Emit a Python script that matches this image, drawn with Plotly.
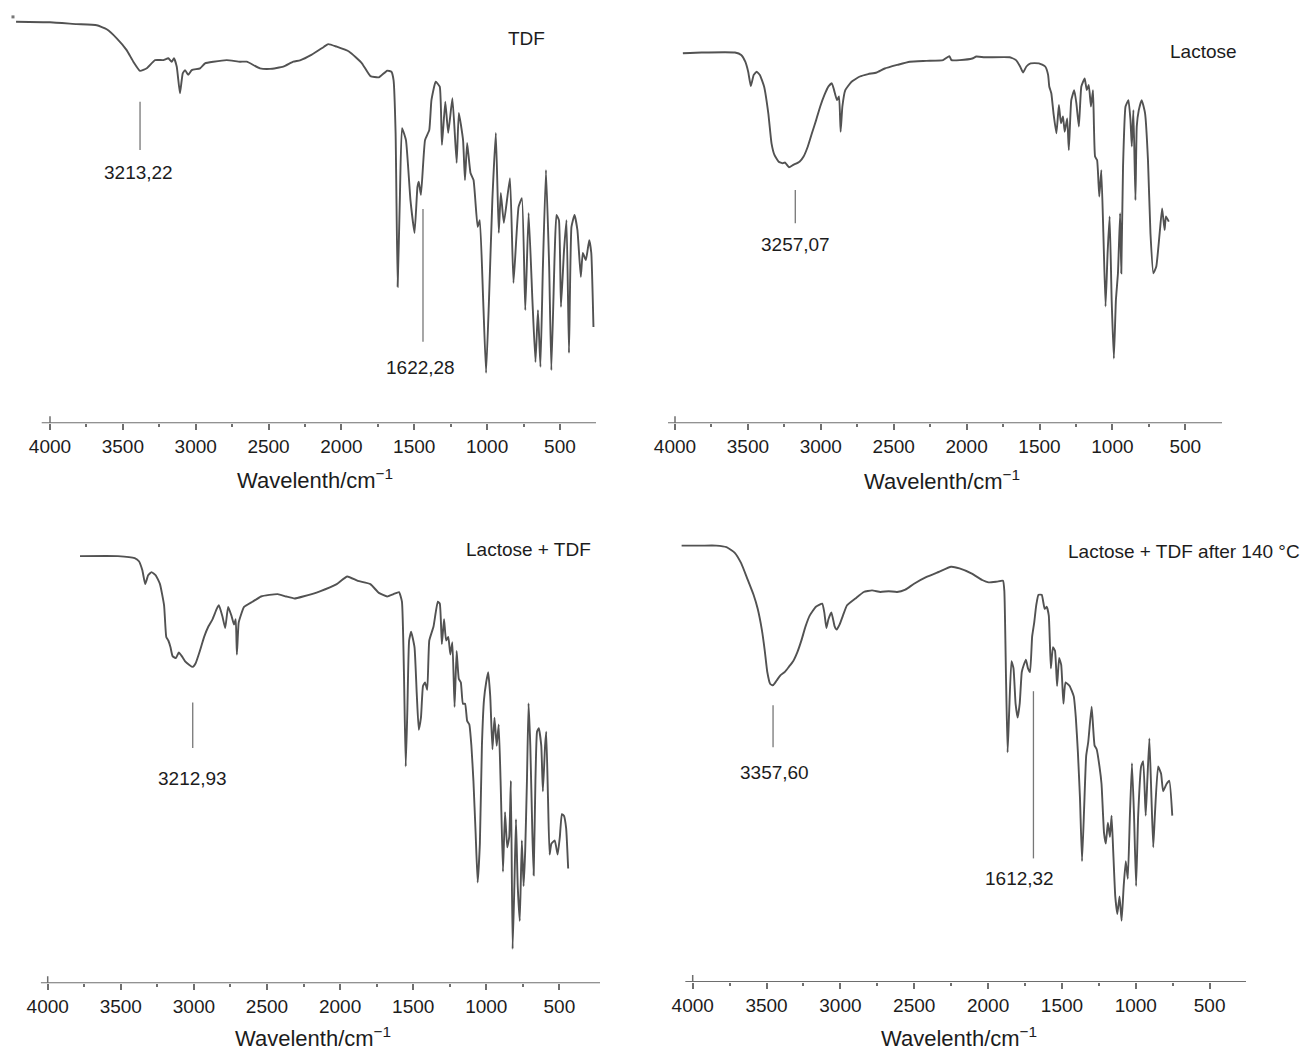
import plotly.graph_objects as go

W, H = 1312, 1050

# ---------------- data (wavenumber cm-1, relative transmittance a.u.) ----------------
tdf_wn = [4233, 4000, 3817, 3679, 3611, 3542, 3474, 3428, 3382, 3336, 3279, 3222, 3188, 3165, 3149, 3130,
          3108, 3089, 3073, 3051, 3027, 2970, 2936, 2879, 2787, 2696, 2650, 2559, 2490, 2399, 2330, 2284,
          2206, 2119, 2090, 2032, 1946, 1859, 1801, 1743, 1686, 1657, 1642, 1628, 1614, 1599, 1584, 1557,
          1526, 1498, 1478, 1469, 1454, 1426, 1397, 1382, 1353, 1325, 1310, 1287, 1267, 1238, 1209, 1194,
          1165, 1152, 1137, 1114, 1093, 1065, 1050, 1027, 1007, 987, 964, 940, 920, 906, 885, 843, 819,
          784, 761, 738, 715, 689, 668, 651, 634, 617, 596, 574, 559, 536, 524, 507, 493, 472, 455, 438,
          421, 400, 380, 357, 343, 322, 299, 285, 270]
tdf_t = [100.4, 100.25, 99.8, 99.5, 98.5, 96.25, 93.3, 90.4, 88.1, 88.75, 90.8, 90.8, 91.25, 90.4, 91.25,
         89.15, 82.5, 87.5, 88.3, 87.1, 88.3, 88.75, 90, 90.4, 90.8, 90.4, 90.4, 88.75, 88.6, 89.15, 90.4,
         90.75, 92.1, 94.15, 94.8, 94.15, 92.9, 90, 86.8, 86.5, 88.15, 87.9, 85.8, 72.6, 34.15, 55.8, 73.8,
         70.8, 55.8, 47.6, 59.1, 60.4, 57.1, 70.8, 73.3, 80.8, 85.4, 84.15, 69.6, 80.4, 72.6, 81.25, 65.1,
         77.6, 70.8, 60.8, 70.1, 62.6, 60.8, 49.1, 50.8, 30.8, 12.6, 30.8, 55.8, 72.6, 47.6, 57.6, 50.1,
         61.3, 35.1, 54.1, 56.3, 28.3, 52.6, 30.8, 15.3, 28.3, 14.1, 39.1, 63.3, 39.1, 13.3, 42.6, 52.1,
         50.8, 29.1, 43.3, 50.8, 17.6, 49.1, 52.1, 48.3, 36.6, 42.6, 40.8, 45.8, 42.6, 24.1]
tdf_dot_wn = [4254]
tdf_dot_t = [101.6]

lac_wn = [3946, 3817, 3589, 3546, 3518, 3498, 3480, 3460, 3440, 3418, 3389, 3360, 3338, 3318, 3289, 3261,
          3246, 3218, 3189, 3146, 3118, 3089, 3061, 3032, 3004, 2975, 2946, 2924, 2909, 2889, 2875, 2864,
          2852, 2832, 2789, 2732, 2675, 2618, 2561, 2475, 2390, 2275, 2161, 2118, 2104, 2047, 1961, 1933,
          1876, 1704, 1661, 1633, 1613, 1590, 1561, 1504, 1461, 1441, 1433, 1419, 1404, 1384, 1367, 1353,
          1339, 1327, 1310, 1299, 1282, 1262, 1247, 1230, 1213, 1190, 1176, 1162, 1147, 1133, 1119, 1105,
          1090, 1076, 1062, 1047, 1033, 1019, 1005, 990, 976, 962, 947, 939, 927, 910, 890, 876, 867, 856,
          842, 833, 819, 799, 776, 756, 739, 719, 699, 676, 659, 642, 633, 613]
lac_t = [92.5, 92.7, 92.7, 92.1, 90.4, 87.9, 84.3, 87.1, 87.9, 87.1, 84.2, 77.5, 70.0, 67.1, 65.4, 65.0,
         65.2, 64.0, 64.6, 65.4, 66.7, 69.2, 72.5, 75.8, 79.2, 82.1, 84.3, 85.0, 83.3, 80.8, 81.7, 72.9,
         79.2, 83.3, 85.4, 86.7, 87.3, 87.7, 88.7, 89.6, 90.4, 90.6, 90.8, 91.8, 90.8, 90.8, 91.2, 91.7,
         91.5, 91.5, 90.8, 89.2, 87.7, 89.2, 90.0, 90.0, 89.2, 87.1, 84.2, 82.5, 77.5, 72.5, 79.6, 75.0,
         76.7, 72.9, 76.2, 68.3, 80.8, 83.3, 80.0, 74.2, 84.2, 86.2, 83.3, 84.6, 79.2, 83.3, 66.7, 65.8,
         56.7, 63.3, 47.5, 29.2, 42.5, 51.7, 30.8, 16.2, 30.8, 37.5, 52.5, 37.5, 64.2, 79.2, 80.8, 75.8,
         69.2, 78.3, 55.8, 74.2, 78.3, 80.8, 77.5, 65.8, 47.5, 37.5, 39.2, 47.5, 53.7, 48.3, 51.7, 50.4]

mix_wn = [3779, 3520, 3405, 3376, 3353, 3333, 3313, 3290, 3261, 3232, 3204, 3189, 3175, 3160, 3146, 3123,
          3103, 3083, 3060, 3031, 3008, 2988, 2959, 2930, 2901, 2873, 2844, 2829, 2806, 2786, 2766, 2743,
          2726, 2714, 2706, 2694, 2680, 2657, 2599, 2541, 2484, 2426, 2369, 2311, 2254, 2138, 2023, 1951,
          1879, 1793, 1735, 1678, 1635, 1597, 1577, 1563, 1551, 1540, 1528, 1514, 1491, 1476, 1462, 1447,
          1433, 1419, 1404, 1390, 1361, 1332, 1318, 1304, 1289, 1275, 1260, 1246, 1232, 1217, 1203, 1188,
          1174, 1160, 1145, 1131, 1116, 1102, 1088, 1073, 1059, 1044, 1030, 1016, 1001, 987, 973, 958, 944,
          929, 915, 901, 886, 872, 857, 843, 832, 820, 808, 797, 785, 771, 757, 745, 734, 722, 711, 699,
          685, 676, 664, 653, 641, 624, 613, 598, 590, 578, 567, 555, 532, 512, 497, 483, 469, 454, 440]
mix_t = [106.8, 106.8, 106.3, 105.5, 103.3, 99.8, 102.0, 102.8, 102.0, 99.8, 94.5, 86.6, 85.7, 84.0, 81.8,
         81.3, 82.7, 81.8, 80.5, 79.6, 79.1, 80.0, 83.1, 86.6, 89.2, 91.0, 93.6, 94.5, 91.9, 88.8, 94.1,
         91.9, 89.7, 91.0, 82.2, 90.1, 91.9, 94.1, 95.4, 96.7, 97.1, 97.3, 96.7, 96.2, 96.7, 98.0, 99.8,
         101.7, 100.6, 99.8, 97.6, 96.7, 97.3, 97.8, 95.4, 77.0, 54.2, 68.2, 85.7, 87.9, 84.0, 72.6, 63.4,
         66.4, 74.3, 75.2, 73.4, 85.7, 89.2, 95.4, 94.9, 84.8, 91.0, 85.7, 86.6, 82.2, 85.3, 69.1, 83.1,
         76.1, 75.2, 69.9, 69.9, 65.6, 64.7, 59.4, 50.6, 37.5, 25.2, 34.9, 59.4, 70.8, 75.2, 77.8, 71.7,
         58.5, 66.4, 59.4, 64.7, 48.9, 27.9, 42.8, 34.0, 36.6, 50.6, 8.6, 24.3, 41.0, 24.3, 15.6, 35.7,
         24.3, 33.1, 50.6, 70.0, 59.4, 37.5, 27.0, 50.6, 62.9, 63.8, 59.4, 48.0, 59.4, 62.9, 46.3, 32.2,
         34.9, 35.7, 32.2, 36.6, 42.3, 41.9, 38.8, 28.7]

heat_wn = [4075, 3940, 3841, 3771, 3715, 3672, 3630, 3588, 3560, 3532, 3512, 3495, 3475, 3456, 3433, 3405,
           3377, 3349, 3320, 3292, 3264, 3236, 3208, 3166, 3123, 3109, 3095, 3081, 3061, 3039, 3025, 3005,
           2983, 2955, 2898, 2842, 2786, 2729, 2673, 2617, 2560, 2504, 2420, 2335, 2251, 2194, 2110, 2040,
           1997, 1941, 1899, 1890, 1879, 1868, 1857, 1842, 1828, 1814, 1800, 1786, 1772, 1758, 1744, 1730,
           1716, 1702, 1688, 1674, 1659, 1637, 1617, 1603, 1589, 1575, 1561, 1547, 1533, 1519, 1505, 1490,
           1476, 1448, 1420, 1406, 1392, 1378, 1364, 1350, 1336, 1322, 1299, 1279, 1265, 1246, 1232, 1215,
           1203, 1189, 1175, 1164, 1153, 1139, 1125, 1110, 1096, 1082, 1068, 1054, 1040, 1026, 1012, 998,
           984, 964, 950, 933, 922, 908, 894, 882, 871, 849, 829, 815, 792, 773, 753]
heat_t = [109.1, 109.1, 109.1, 108.7, 107.3, 104.7, 100.8, 96.8, 93.3, 88.1, 82.8, 77.5, 74.5, 74.2, 75.3,
          76.7, 77.5, 78.8, 80.2, 82.4, 85.4, 88.9, 91.6, 93.8, 94.6, 92.4, 88.5, 90.7, 92.4, 88.9, 88.1,
          89.4, 91.6, 94.2, 95.9, 97.5, 97.9, 97.5, 97.7, 97.5, 98.1, 99.5, 101.2, 102.5, 103.8, 103.4,
          102.1, 100.5, 99.9, 100.1, 100.3, 97.7, 76.7, 57.4, 67.9, 80.2, 78.4, 69.6, 66.1, 69.6, 77.5,
          79.3, 80.6, 78.4, 77.5, 86.3, 89.8, 94.2, 96.8, 96.8, 93.3, 93.8, 91.6, 78.4, 83.7, 82.8, 74.0,
          81.0, 79.3, 69.6, 74.9, 74.0, 71.4, 66.1, 57.4, 46.0, 30.2, 43.3, 56.5, 60.0, 68.8, 59.1, 58.2,
          53.9, 49.5, 37.2, 34.6, 39.8, 36.3, 41.6, 32.8, 21.4, 17.0, 21.4, 15.3, 24.0, 30.2, 25.8, 41.6,
          54.7, 41.6, 24.0, 41.6, 53.9, 55.2, 41.6, 50.3, 60.9, 46.0, 33.7, 41.6, 53.9, 52.1, 47.7, 49.5,
          50.3, 41.6]

sample_names = ["TDF", "Lactose", "Lactose + TDF", "Lactose + TDF after 140 °C"]
tick_vals = [4000, 3500, 3000, 2500, 2000, 1500, 1000, 500]
minor_vals = [3750, 3250, 2750, 2250, 1750, 1250, 750]

# peak marks
peak_panel = [0, 0, 1, 2, 3, 3]
peak_text = ["3213,22", "1622,28", "3257,07", "3212,93", "3357,60", "1612,32"]
peak_line_wn = [3382, 1440, 3175, 3008, 3456, 1693]
peak_line_lo = [68.3, 20.4, 50.0, 58.8, 58.7, 30.9]
peak_line_hi = [80.4, 53.6, 58.3, 70.2, 69.2, 72.7]
peak_lab_wn = [3396, 1454, 3175, 3008, 3447, 1786]
peak_lab_t = [62.65, 13.9, 44.8, 51.3, 52.5, 26.0]

# ---------------- layout geometry (screen pixels; OFF compensates page body margin) ----------------
OFF = 8
panels = [
    dict(x4000=50.0, s=0.1457, dl=8, dr=596, base=423.3, top=103.5, ax0=4057, name_xy=(526, 38), xt=(315, 479)),
    dict(x4000=675.0, s=0.1458, dl=668, dr=1222, base=423.3, top=103.5, ax0=4048, name_xy=(1203, 51), xt=(942, 480)),
    dict(x4000=47.7, s=0.1462, dl=40.7, dr=600, base=983.3, top=112, ax0=4048, name_xy=(528, 549), xt=(313, 1037)),
    dict(x4000=692.7, s=0.1477, dl=676, dr=1246, base=982.0, top=112, ax0=4050, name_xy=(1184, 551), xt=(959, 1037)),
]
PXU = 4.0  # pixels per transmittance unit

series = [(tdf_wn, tdf_t), (lac_wn, lac_t), (mix_wn, mix_t), (heat_wn, heat_t)]

FONT = "Liberation Sans, Arial, Helvetica, sans-serif"
LINE_COL = "#525252"
AX_COL = "#6e6e6e"
TXT_COL = "#1c1c1c"

fig = go.Figure()
shapes = []
annotations = []
layout = dict(width=W, height=H, margin=dict(l=0, r=0, t=0, b=0, autoexpand=False),
              paper_bgcolor="white", plot_bgcolor="white", showlegend=False)


def px_x(v):
    return (v - OFF) / W


def px_y(v):
    return 1 - (v - OFF) / H


for i, p in enumerate(panels):
    sfx = "" if i == 0 else str(i + 1)
    xa, ya = "x" + sfx, "y" + sfx
    wn, t = series[i]
    fig.add_trace(go.Scatter(x=wn, y=t, mode="lines", xaxis=xa, yaxis=ya,
                             line=dict(color=LINE_COL, width=1.9, shape="spline", smoothing=0.4),
                             hoverinfo="skip"))
    xr0 = 4000 + (p["x4000"] - p["dl"]) / p["s"]
    xr1 = 4000 - (p["dr"] - p["x4000"]) / p["s"]
    ytop_px = p["base"] - PXU * p["top"]
    layout["xaxis" + sfx] = dict(
        domain=[px_x(p["dl"]), px_x(p["dr"])], range=[xr0, xr1], anchor=ya,
        showline=False, showgrid=False, zeroline=False, automargin=False,
        ticks="outside", ticklen=6, tickwidth=1.5, tickcolor=AX_COL,
        tickmode="array", tickvals=tick_vals, ticktext=[str(v) for v in tick_vals],
        tickfont=dict(family=FONT, size=19, color=TXT_COL),
        minor=dict(tickmode="array", tickvals=minor_vals, ticks="outside", ticklen=3,
                   tickwidth=1.5, tickcolor=AX_COL, showgrid=False),
    )
    layout["yaxis" + sfx] = dict(
        domain=[max(0.0, px_y(p["base"])), min(1.0, px_y(ytop_px))], range=[0, p["top"]],
        anchor=xa, visible=False, automargin=False,
    )
    shapes.append(dict(type="line", xref=xa, yref=ya, x0=p["ax0"], x1=xr1, y0=0, y1=0,
                       line=dict(color=AX_COL, width=2)))
    shapes.append(dict(type="line", xref=xa, yref=ya, ysizemode="pixel", yanchor=0,
                       x0=4000, x1=4000, y0=0, y1=7, line=dict(color=AX_COL, width=1.5)))
    annotations.append(dict(text=sample_names[i], xref="paper", yref="paper",
                            x=px_x(p["name_xy"][0]), y=px_y(p["name_xy"][1]),
                            xanchor="center", yanchor="middle", showarrow=False,
                            font=dict(family=FONT, size=19, color=TXT_COL)))
    annotations.append(dict(text="Wavelenth/cm<sup>−1</sup>", xref="paper", yref="paper",
                            x=px_x(p["xt"][0]), y=px_y(p["xt"][1]),
                            xanchor="center", yanchor="middle", showarrow=False,
                            font=dict(family=FONT, size=22, color=TXT_COL)))

fig.add_trace(go.Scatter(x=tdf_dot_wn, y=tdf_dot_t, mode="markers", xaxis="x", yaxis="y",
                         marker=dict(symbol="square", size=3, color="#777777"),
                         cliponaxis=False, hoverinfo="skip"))

for k in range(len(peak_text)):
    i = peak_panel[k]
    sfx = "" if i == 0 else str(i + 1)
    xa, ya = "x" + sfx, "y" + sfx
    shapes.append(dict(type="line", xref=xa, yref=ya, x0=peak_line_wn[k], x1=peak_line_wn[k],
                       y0=peak_line_lo[k], y1=peak_line_hi[k], line=dict(color="#777777", width=1.3)))
    annotations.append(dict(text=peak_text[k], xref=xa, yref=ya, x=peak_lab_wn[k], y=peak_lab_t[k],
                            xanchor="center", yanchor="middle", showarrow=False,
                            font=dict(family=FONT, size=19, color=TXT_COL)))

layout["shapes"] = shapes
layout["annotations"] = annotations
fig.update_layout(**layout)

fig.write_html("out.html")
